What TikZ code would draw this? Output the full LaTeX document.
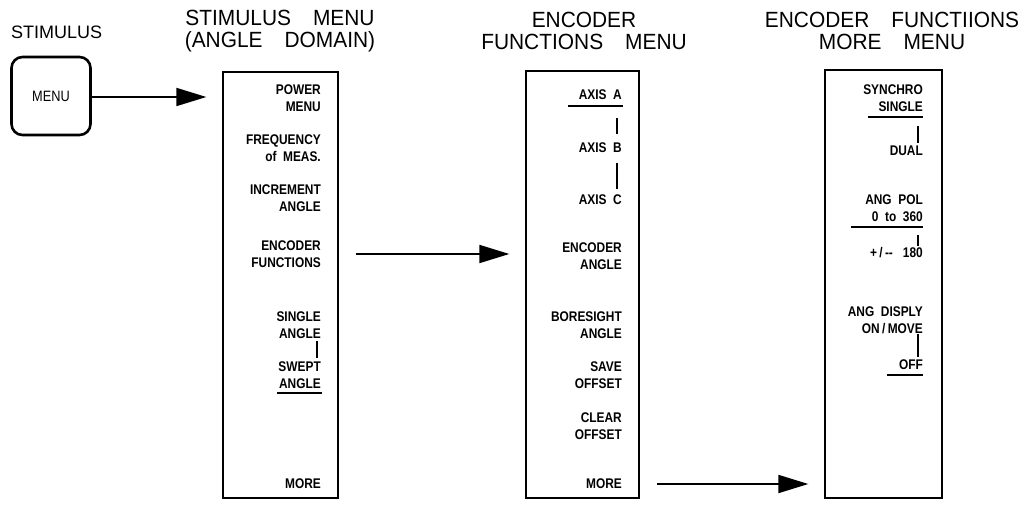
\documentclass[tikz,border=0pt]{standalone}
\usepackage{fontspec}
\setmainfont{Liberation Sans}
\newfontfamily\titlefont[FakeStretch=0.95]{Liberation Sans}
\newfontfamily\menufont[FakeStretch=0.85]{Liberation Sans}
\newfontfamily\keyfont[FakeStretch=0.85]{Liberation Sans Bold}
\usetikzlibrary{arrows.meta}
\begin{document}
\begin{tikzpicture}[x=1pt,y=-1pt,
  ttl/.style={font=\titlefont\fontsize{22}{22}\selectfont, align=center, inner sep=0pt},
  panel/.style={draw, line width=1.3pt, inner sep=0pt},
  key/.style={font=\keyfont\fontsize{14}{17}\selectfont, align=right, anchor=east, inner sep=0pt},
  bar/.style={line width=1.4pt},
  uline/.style={line width=1.5pt},
  flow/.style={line width=1.8pt, -{Triangle[length=30pt,width=18pt]}, shorten <=17pt, shorten >=16pt}
]
\useasboundingbox (0,0) rectangle (1024,508);

% left stimulus key
\node[font=\fontsize{18}{20}\selectfont, anchor=west, inner sep=0pt] (stimttl) at (11,32) {STIMULUS};
\node[draw, line width=2.6pt, rounded corners=11pt, minimum width=79pt, minimum height=78pt, inner sep=0pt,
      font=\menufont\fontsize{15}{18}\selectfont] (menukey) at (51,96) {MENU};

% titles
\node[ttl] (t1) at (280,31) {STIMULUS\quad MENU\\(ANGLE\quad DOMAIN)};
\node[ttl] (t2) at (584,31) {ENCODER\\FUNCTIONS\quad MENU};
\node[ttl] (t3) at (892,31) {ENCODER\quad FUNCTIIONS\\MORE\quad MENU};

% panels
\node[panel, minimum width=115pt, minimum height=426pt] (p1) at (280.5,285) {};
\node[panel, minimum width=113pt, minimum height=427pt] (p2) at (582.5,284.5) {};
\node[panel, minimum width=117pt, minimum height=428pt] (p3) at (883.5,284) {};

% panel 1 keys
\node[key] (a1) at (321,98) {POWER\\MENU};
\node[key] (a2) at (321,148) {FREQUENCY\\of~~MEAS.};
\node[key] (a3) at (321,198) {INCREMENT\\ANGLE};
\node[key] (a4) at (321,254) {ENCODER\\FUNCTIONS};
\node[key] (a5) at (321,325.5) {SINGLE\\ANGLE};
\node[key] (a6) at (321,375.5) {SWEPT\\ANGLE};
\node[key] (a7) at (321,484) {MORE};
\draw[bar] (317,341) -- (317,358);
\draw[uline] (277,393) -- (322,393);

% panel 2 keys
\node[key] (b1) at (622,95) {AXIS~~A};
\node[key] (b2) at (622,148) {AXIS~~B};
\node[key] (b3) at (622,200) {AXIS~~C};
\node[key] (b4) at (622,256) {ENCODER\\ANGLE};
\node[key] (b5) at (622,325) {BORESIGHT\\ANGLE};
\node[key] (b6) at (622,375.5) {SAVE\\OFFSET};
\node[key] (b7) at (622,426.5) {CLEAR\\OFFSET};
\node[key] (b8) at (622,484) {MORE};
\draw[uline] (568,106) -- (623,106);
\draw[bar] (617,118) -- (617,134);
\draw[bar] (617,163) -- (617,189);

% panel 3 keys
\node[key] (c1) at (923,98.5) {SYNCHRO\\SINGLE};
\node[key] (c2) at (923,151) {DUAL};
\node[key] (c3) at (923,208.5) {ANG~~POL\\0~~to~~360};
\node[key] (c4) at (923,253) {+\,/\,--\hspace{10pt}180};
\node[key] (c5) at (923,320) {ANG~~DISPLY\\ON\,/\,MOVE};
\node[key] (c6) at (923,365) {OFF};
\draw[uline] (868,117) -- (923,117);
\draw[bar] (918,126) -- (918,143);
\draw[uline] (851,227) -- (923,227);
\draw[bar] (918,235) -- (918,246);
\draw[bar] (918,334) -- (918,357);
\draw[uline] (887,375) -- (923,375);

% connectors
\draw[flow, shorten <=0pt] (menukey.east |- 0,97) -- (p1.west |- 0,97);
\draw[flow] (p1.east |- a4.east) -- (p2.west |- a4.east);
\draw[flow] (p2.east |- b8.east) -- (p3.west |- b8.east);
\end{tikzpicture}
\end{document}
